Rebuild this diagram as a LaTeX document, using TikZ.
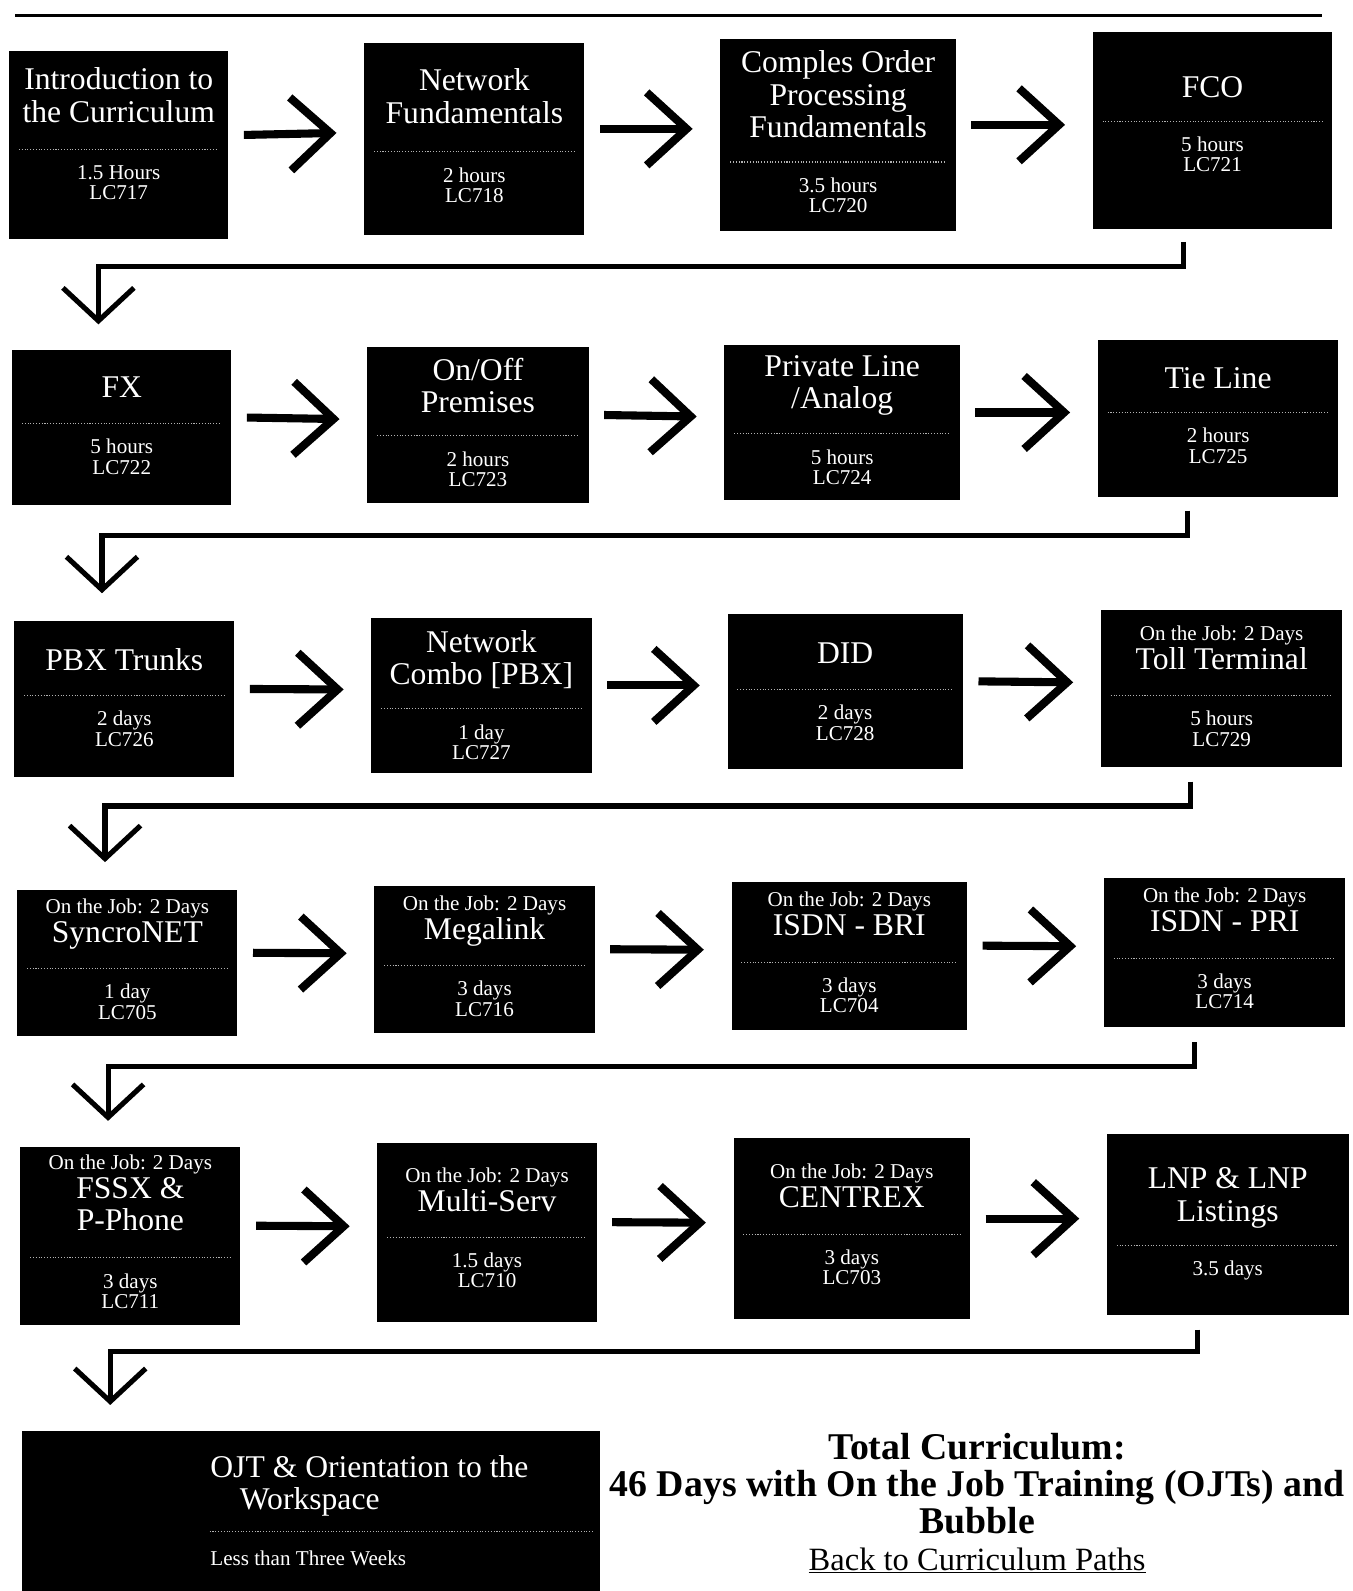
\documentclass[tikz,border=0pt]{standalone}
\usepackage{fontspec}
\setmainfont{Liberation Serif}
\usetikzlibrary{arrows.meta,calc,fit}

\newcommand\ojtline{{\fontsize{12}{12}\selectfont On the Job: 2 Days}\\[-2pt]}

\begin{document}
\begin{tikzpicture}[x=0.0203cm,y=-0.0203cm,
    course/.style={fill=black,inner sep=0pt},
    title/.style={text=white,font=\fontsize{18}{18.5}\selectfont,align=center,anchor=north,inner sep=0pt},
    info/.style={text=white,font=\fontsize{12}{11.5}\selectfont,align=center,anchor=north,inner sep=0pt},
    divider/.style={gray!60,line width=0.6pt,densely dotted},
    next/.style={line width=4.6pt,-{Straight Barb[length=0.8cm,width=1.46cm]}},
    wrap/.style={line width=2.9pt,-{Straight Barb[length=0.66cm,width=1.42cm]}}]

\useasboundingbox (0,0) rectangle (1333,1568);
\draw[line width=1.5pt] (15,15) -- (1303,15);

% the course boxes, row by row
\foreach \n/\xa/\ya/\xb/\yb/\ty/\dy/\ttl/\hrs in {
    1/9/50/225/236/17/98/{Introduction to\\the Curriculum}/{1.5 Hours\\LC717},
    2/359/42/576/232/26/108/{Network\\Fundamentals}/{2 hours\\LC718},
    3/710/38/942/228/12/122/{Comples Order\\Processing\\Fundamentals}/{3.5 hours\\LC720},
    4/1077/32/1313/226/43/88/{FCO}/{5 hours\\LC721},
    5/12/345/228/498/26/73/{FX}/{5 hours\\LC722},
    6/362/342/580/496/11/88/{On/Off\\Premises}/{2 hours\\LC723},
    7/714/340/946/493/10/88/{Private Line\\/Analog}/{5 hours\\LC724},
    8/1082/335/1319/490/27/72/{Tie Line}/{2 hours\\LC725},
    9/14/612/231/766/27/74/{PBX Trunks}/{2 days\\LC726},
    10/366/609/583/762/12/90/{Network\\Combo [PBX]}/{1 day\\LC727},
    11/717/605/949/758/28/75/{DID}/{2 days\\LC728},
    12/1085/601/1323/756/16/85/{\ojtline Toll Terminal}/{5 hours\\LC729},
    13/17/877/234/1021/9/78/{\ojtline SyncroNET}/{1 day\\LC705},
    14/369/873/586/1018/10/79/{\ojtline Megalink}/{3 days\\LC716},
    15/721/869/953/1015/10/80/{\ojtline ISDN - BRI}/{3 days\\LC704},
    16/1088/865/1326/1012/10/80/{\ojtline ISDN - PRI}/{3 days\\LC714},
    17/20/1130/237/1306/8/110/{\ojtline FSSX \&\\P-Phone}/{3 days\\LC711},
    18/372/1126/588/1303/25/94/{\ojtline Multi-Serv}/{1.5 days\\LC710},
    19/723/1122/956/1300/25/95/{\ojtline CENTREX}/{3 days\\LC703},
    20/1091/1118/1329/1296/33/110/{LNP \& LNP\\Listings}/{3.5 days}}{
    \node[course,fit={(\xa,\ya) (\xb,\yb)}] (c-\n) {};
    \node[title] (t-\n) at ($(c-\n.north)+(0,\ty)$) {\ttl};
    \draw[divider] ($(c-\n.north west)+(10,\dy)$) -- ($(c-\n.north east)+(-10,\dy)$);
    \node[info] (h-\n) at ($(c-\n.north)+(0,\dy+15)$) {\hrs};
}

% last box
\node[course,fit={(22,1410) (591,1568)}] (c-21) {};
\node[title,anchor=north west,align=left] (t-21) at (207,1434) {OJT \& Orientation to the\\\hspace*{0.59cm}Workspace};
\draw[divider] ($(c-21.north west)+(185,100)$) -- ($(c-21.north east)+(-6,100)$);
\node[info,anchor=north west] (h-21) at (207,1528) {Less than Three Weeks};

% arrows along the rows
\foreach \a/\b in {1/2,2/3,3/4,5/6,6/7,7/8,9/10,10/11,11/12,13/14,14/15,15/16,17/18,18/19,19/20}
    \draw[next] ($(c-\a.east)+(15,-10)$) -- ($(c-\b.west)+(-27,-6)$);

% back to the start of the next row
\foreach \a/\b/\dx/\dy/\ex/\ey in {4/5/-29/12/-23/-25,8/9/-30/13/-22/-27,12/13/-31/14/-22/-27,16/17/-30/15/-22/-25}{
    \coordinate (s-\a) at ($(c-\a.south)+(\dx,\dy)$);
    \coordinate (e-\b) at ($(c-\b.north)+(\ex,\ey)$);
    \draw[wrap] (s-\a) -- ++(0,24) -| (e-\b);
}
\coordinate (s-20) at ($(c-20.south)+(-30,14)$);
\coordinate (e-21) at ($(c-21.north west)+(87,-25)$);
\draw[wrap] (s-20) -- ++(0,22) -| (e-21);

\node[align=center,anchor=north,inner sep=0pt,font=\fontsize{21.5}{21}\selectfont\bfseries] (total) at (963,1412)
    {Total Curriculum:\\46 Days with On the Job Training (OJTs) and\\Bubble\\{\fontsize{18.5}{20}\selectfont\mdseries\underline{Back to Curriculum Paths}}};

\end{tikzpicture}
\end{document}
